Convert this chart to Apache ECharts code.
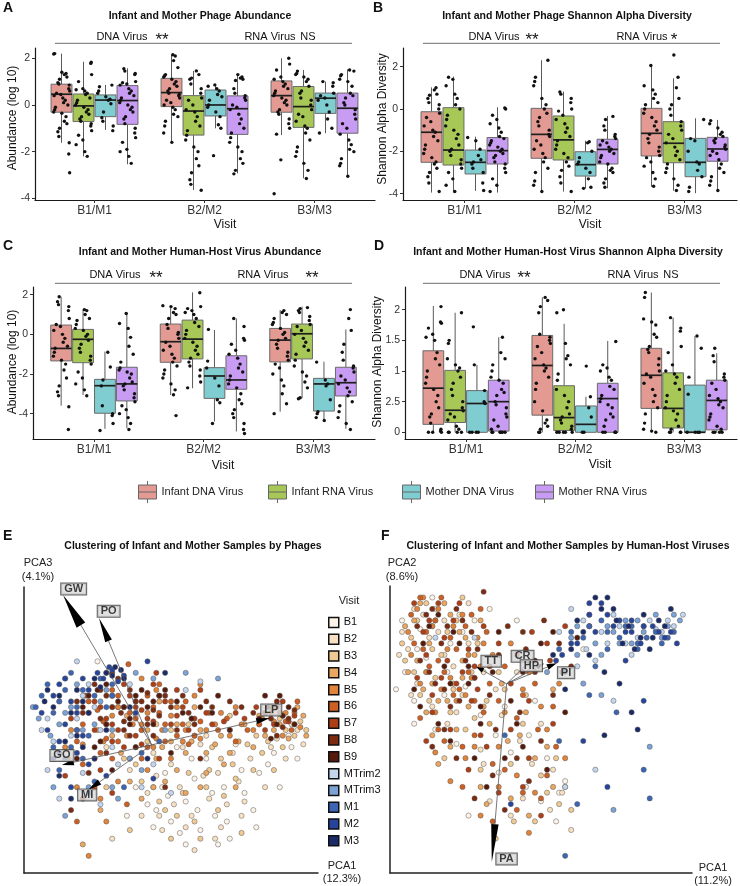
<!DOCTYPE html>
<html><head><meta charset="utf-8">
<script src="https://cdn.jsdelivr.net/npm/echarts@6/dist/echarts.min.js"></script>
<style>html,body{margin:0;padding:0;background:#fff}#c{width:740px;height:886px}</style>
</head><body><div id="c"></div>
<script>
// ---------------- DATA ----------------
const visitLabels = ['B1/M1','B2/M2','B3/M3'];
const groupNames = ['Infant DNA Virus','Infant RNA Virus','Mother DNA Virus','Mother RNA Virus'];
const divTickLabels = ['0','2.5','1','1.5','2'];

// box stats [low, q1, median, q3, high]  -> [visit][group]
const phageAbundBox = [
  [[-1.62,-0.31,0.46,0.89,2.2],[-2.2,-0.71,-0.04,0.47,1.85],[-1.07,-0.5,0.21,0.43,0.86],[-2.54,-0.83,0.19,0.83,1.57]],
  [[-1.61,-0.07,0.53,1.14,2.15],[-3.64,-1.29,-0.26,0.4,1.46],[-1.0,-0.47,0.0,0.64,0.86],[-2.93,-1.26,-0.16,0.39,1.31]],
  [[-1.29,-0.31,0.4,1.03,2.0],[-3.14,-0.96,-0.07,0.79,1.5],[-1.21,-0.36,0.29,0.51,1.0],[-3.0,-1.21,-0.14,0.51,1.53]]
];
const phageDivBox = [
  [[-3.95,-2.52,-1.1,-0.13,1.02],[-3.95,-2.65,-1.94,0.06,1.53],[-3.87,-3.07,-2.52,-1.94,-1.31],[-3.95,-2.6,-1.97,-1.35,0.08]],
  [[-3.95,-2.33,-1.2,0.03,2.3],[-3.9,-2.41,-1.46,-0.33,0.82],[-3.75,-3.17,-2.63,-2.02,-1.5],[-3.75,-2.6,-1.91,-1.43,-0.33]],
  [[-3.67,-2.22,-1.15,0.03,2.11],[-3.86,-2.54,-1.62,-0.6,1.45],[-3.98,-3.2,-2.52,-1.39,-0.44],[-3.9,-2.47,-1.89,-1.34,-0.52]]
];
const hostAbundBox = [
  [[-3.6,-1.34,-0.71,0.47,1.9],[-3.06,-1.43,-0.25,0.25,1.23],[-4.77,-3.98,-2.59,-2.27,-0.87],[-4.74,-3.36,-2.5,-1.66,1.09]],
  [[-3.06,-1.41,-0.37,0.52,1.43],[-2.72,-1.24,-0.24,0.72,2.12],[-4.4,-3.23,-2.1,-1.68,0.22],[-4.9,-2.77,-2.3,-1.08,0.8]],
  [[-3.9,-1.39,-0.29,0.3,1.23],[-3.23,-1.24,0.03,0.52,1.4],[-4.32,-3.87,-2.5,-2.22,-1.38],[-4.77,-3.11,-2.44,-1.66,0.25]]
];
const hostDivBox = [
  [[0,0.13,0.72,1.33,2.06],[0,0.16,0.36,1.01,1.95],[0,0,0.47,0.68,1.1],[0,0.02,0.5,0.85,1.55]],
  [[0,0.28,1.09,1.58,2.2],[0,0.03,0.24,0.76,1.77],[0,0,0.13,0.43,0.58],[0,0,0.55,0.8,1.49]],
  [[0,0.39,0.93,1.37,2.28],[0,0.07,0.39,0.97,1.87],[0,0,0,0.77,1.57],[0,0.04,0.52,0.85,1.29]]
];

// sample values per box (order: visit-major, group-minor)
const phageAbundPts = [
  [2.2,2.18,1.4,1.35,1.3,1.2,1.1,0.95,0.9,0.85,0.7,0.6,0.5,0.45,0.4,0.3,0.2,0.1,0,-0.1,-0.2,-0.3,-0.35,-0.5,-0.7,-0.8,-1.0,-1.15,-1.35,-1.62,-2.1,-2.9],
  [1.83,1.78,1.3,1.0,0.7,0.65,0.6,0.5,0.45,0.3,0.2,0.1,0,-0.1,-0.2,-0.3,-0.4,-0.5,-0.6,-0.7,-0.8,-0.9,-1.1,-1.3,-1.5,-1.7,-2.0,-2.2],
  [0.85,0.78,0.6,0.5,0.35,0.25,0.2,0.05,-0.3,-0.55,-0.7,-0.9,-1.1],
  [1.55,1.45,1.35,1.3,1.0,0.95,0.9,0.85,0.7,0.6,0.5,0.4,0.3,0.2,0.1,0,-0.1,-0.2,-0.3,-0.5,-0.6,-0.8,-1.0,-1.2,-1.4,-1.6,-1.9,-2.0,-2.2,-2.5],
  [2.15,2.1,1.9,1.6,1.3,1.25,1.2,1.1,1.0,0.9,0.8,0.7,0.6,0.5,0.45,0.4,0.3,0.2,0.1,0,-0.1,-0.2,-0.4,-0.5,-0.7,-0.9,-1.2,-1.6],
  [1.46,1.3,1.15,1.1,0.9,0.7,0.5,0.3,0.2,0,-0.2,-0.3,-0.5,-0.7,-0.9,-1.1,-1.3,-1.5,-1.8,-2.0,-2.3,-2.6,-2.9,-3.2,-3.4,-3.65],
  [0.86,0.8,0.7,0.6,0.45,0.35,0.2,0,-0.1,-0.3,-0.5,-0.85,-1.0,-2.17],
  [1.3,1.2,1.15,1.1,1.05,0.7,0.5,0.4,0.3,0.2,0,-0.1,-0.2,-0.4,-0.6,-0.8,-1.0,-1.2,-1.4,-1.6,-1.8,-2.0,-2.3,-2.5,-2.8,-2.95],
  [2.0,1.75,1.5,1.2,1.1,1.0,0.9,0.8,0.7,0.6,0.5,0.4,0.3,0.2,0.1,0,-0.2,-0.3,-0.4,-0.6,-0.8,-1.0,-1.25,-2.35,-3.8],
  [1.45,1.35,1.3,1.2,1.1,1.0,0.8,0.6,0.5,0.3,0.2,0,-0.2,-0.4,-0.5,-0.7,-0.9,-1.0,-1.2,-1.5,-1.8,-2.0,-2.2,-2.5,-2.8,-3.15],
  [1.0,0.95,0.8,0.5,0.4,0.3,0.2,0,-0.3,-0.6,-1.0,-1.2],
  [1.5,1.45,1.3,1.25,1.1,1.0,0.8,0.5,0.4,0.3,0.1,0,-0.2,-0.4,-0.6,-0.8,-1.0,-1.25,-1.5,-1.7,-1.9,-2.0,-2.3,-2.5,-2.6,-3.05]
];
const phageDivPts = [
  [1.0,0.9,0.7,0.65,0.5,0.3,0.2,0,-0.2,-0.4,-0.6,-0.8,-1.0,-1.1,-1.3,-1.5,-1.7,-1.9,-2.1,-2.3,-2.5,-2.6,-2.8,-3.0,-3.2,-3.5,-3.9],
  [1.5,1.4,1.1,0.7,0.5,0.2,0,-0.3,-0.5,-0.8,-1.0,-1.2,-1.4,-1.7,-1.9,-2.0,-2.2,-2.4,-2.6,-2.8,-3.0,-3.3,-3.6,-3.9],
  [-1.35,-1.5,-1.9,-2.2,-2.4,-2.5,-2.6,-2.8,-3.0,-3.5,-3.85],
  [0.05,0,-0.3,-0.5,-0.7,-0.9,-1.1,-1.3,-1.4,-1.5,-1.6,-1.7,-1.8,-1.9,-2.0,-2.1,-2.2,-2.3,-2.5,-2.6,-2.8,-3.0,-3.3,-3.6,-3.9],
  [2.3,1.5,1.3,1.1,0.5,0.2,0,-0.2,-0.4,-0.6,-0.8,-1.0,-1.2,-1.3,-1.5,-1.7,-1.9,-2.1,-2.3,-2.5,-2.8,-3.0,-3.4,-3.6,-3.9],
  [0.8,0.7,0.5,0.3,0,-0.1,-0.3,-0.5,-0.7,-0.9,-1.1,-1.3,-1.5,-1.7,-1.9,-2.1,-2.3,-2.5,-2.7,-2.9,-3.2,-3.5,-3.9],
  [-1.55,-1.6,-2.0,-2.3,-2.5,-2.6,-2.8,-3.0,-3.3,-3.7,-3.75],
  [-0.35,-0.5,-0.8,-1.0,-1.2,-1.3,-1.4,-1.5,-1.6,-1.7,-1.8,-1.9,-2.0,-2.1,-2.2,-2.3,-2.5,-2.6,-2.8,-2.9,-3.0,-3.3,-3.5,-3.7],
  [2.05,1.1,0.9,0.7,0.5,0.3,0.2,0,-0.2,-0.4,-0.6,-0.8,-1.0,-1.2,-1.4,-1.6,-1.8,-2.0,-2.2,-2.3,-2.5,-2.7,-3.0,-3.3,-3.65],
  [2.55,1.5,1.0,0.5,0.2,0,-0.3,-0.6,-0.8,-1.0,-1.2,-1.4,-1.6,-1.8,-2.0,-2.2,-2.4,-2.6,-2.8,-3.0,-3.3,-3.6,-3.85],
  [-0.5,-1.4,-1.5,-2.0,-2.5,-2.6,-2.9,-3.2,-3.7,-3.9],
  [-0.55,-0.7,-0.9,-1.1,-1.2,-1.3,-1.4,-1.5,-1.6,-1.7,-1.8,-1.9,-2.0,-2.1,-2.2,-2.4,-2.6,-2.8,-3.0,-3.2,-3.4,-3.6,-3.85]
];
const hostAbundPts = [
  [1.9,1.65,1.5,1.4,1.2,0.8,0.5,0.4,0.2,0,-0.2,-0.4,-0.6,-0.7,-0.9,-1.1,-1.3,-1.5,-1.8,-2.2,-2.6,-2.9,-3.1,-3.65,-4.8],
  [1.25,1.2,1.0,0.8,0.7,0.5,0.3,0.2,0,-0.1,-0.3,-0.5,-0.7,-0.9,-1.1,-1.3,-1.5,-1.9,-2.2,-2.5,-2.8,-3.1],
  [-0.9,-1.65,-2.3,-2.6,-3.6,-4.0,-4.1,-4.5,-4.85],
  [1.05,0.55,0.3,-0.15,-0.6,-1.0,-1.4,-1.7,-1.8,-1.9,-2.0,-2.2,-2.4,-2.5,-2.6,-2.8,-3.0,-3.2,-3.4,-3.6,-3.8,-4.0,-4.2,-4.5,-4.8],
  [1.45,1.4,1.3,1.1,1.0,0.8,0.5,0.3,0.1,0,-0.2,-0.4,-0.6,-0.8,-1.0,-1.2,-1.4,-1.6,-1.8,-2.0,-2.2,-2.5,-2.8,-3.05,-4.1],
  [2.1,1.4,1.3,1.2,1.1,1.0,0.8,0.6,0.4,0.2,0,-0.2,-0.4,-0.6,-0.8,-1.0,-1.2,-1.4,-1.6,-1.8,-2.1,-2.4,-2.7],
  [0.25,-1.35,-1.7,-2.2,-2.6,-3.3,-3.45,-4.5],
  [0.8,0.4,-0.2,-0.3,-0.5,-0.8,-1.0,-1.2,-1.5,-1.7,-1.9,-2.1,-2.3,-2.5,-2.7,-3.0,-3.3,-3.5,-3.8,-4.0,-4.2,-4.5,-4.8,-5.0],
  [1.2,1.1,1.0,0.8,0.6,0.5,0.3,0.1,0,-0.2,-0.3,-0.5,-0.7,-0.9,-1.1,-1.3,-1.5,-1.7,-2.0,-2.3,-2.6,-3.0,-3.5,-4.0],
  [1.35,1.3,1.2,1.1,0.9,0.7,0.5,0.4,0.2,0,-0.2,-0.4,-0.6,-0.8,-1.0,-1.3,-1.6,-1.9,-2.1,-2.4,-2.7,-3.2,-3.25],
  [-1.4,-2.3,-2.5,-2.6,-3.3,-3.9,-4.0,-4.2,-4.35],
  [1.25,0.8,0.2,-0.5,-0.9,-1.3,-1.6,-1.7,-1.9,-2.1,-2.3,-2.5,-2.7,-2.9,-3.1,-3.4,-3.6,-3.9,-4.2,-4.5,-4.8]
];
const hostDivPts = [
  [2.05,1.8,1.78,1.7,1.6,1.55,1.5,1.3,1.2,1.1,1.0,0.9,0.8,0.7,0.6,0.5,0.4,0.3,0.25,0.15,0.05,0.02,0,0,0],
  [1.95,1.5,1.45,1.2,1.1,1.05,1.0,0.9,0.8,0.7,0.6,0.5,0.4,0.35,0.3,0.25,0.2,0.1,0.05,0,0,0,0],
  [1.72,1.1,0.68,0.5,0.47,0,0,0,0],
  [1.55,1.3,1.2,1.1,1.0,0.9,0.85,0.8,0.7,0.65,0.6,0.5,0.45,0.4,0.3,0.25,0.2,0.1,0.05,0,0,0,0,0,0],
  [2.2,2.15,2.05,1.95,1.6,1.55,1.5,1.45,1.4,1.3,1.2,1.1,1.05,1.0,0.9,0.8,0.7,0.5,0.35,0.2,0.15,0.1,0.05,0,0],
  [2.0,1.95,1.45,1.25,1.2,1.1,0.95,0.85,0.7,0.6,0.5,0.4,0.3,0.25,0.2,0.15,0.1,0.05,0,0,0,0,0],
  [1.08,0.58,0.4,0.25,0,0],
  [1.48,1.1,1.05,1.0,0.9,0.85,0.75,0.7,0.6,0.55,0.5,0.45,0.4,0.3,0.25,0.2,0.1,0,0,0,0,0],
  [2.28,2.2,1.85,1.8,1.75,1.6,1.55,1.4,1.35,1.3,1.2,1.1,1.0,0.95,0.9,0.8,0.7,0.6,0.5,0.4,0.3,0.15,0.05,0.02,0],
  [1.87,1.7,1.65,1.4,1.3,1.1,1.0,0.95,0.9,0.8,0.7,0.6,0.5,0.4,0.35,0.3,0.2,0.1,0.05,0,0,0,0],
  [1.57,1.37,0.9,0.62,0,0,0,0],
  [1.37,1.25,1.15,0.95,0.9,0.85,0.8,0.7,0.6,0.55,0.5,0.45,0.4,0.3,0.25,0.2,0.1,0.05,0,0,0,0]
];
// fixed horizontal jitter pattern (category units)
const jitterPattern = [-0.062,0.041,-0.018,0.07,-0.045,0.012,0.058,-0.071,0.026,-0.033,0.066,-0.006,0.034,-0.055,0.003,0.049,-0.024,0.074,-0.067,0.019];

// PCA panels (arbitrary score units, 0-100)
const visitNames = ['B1','B2','B3','B4','B5','B6','B7','B8','B9','MTrim2','MTrim3','M1','M2','M3'];
const phagePCA_B1 = [[38,30],[45,22],[50,18],[55,25],[60,15],[65,20],[70,12],[48,35],[58,33],[75,28],[80,35],[85,42],[90,48],[72,45],[62,40],[52,44],[40,50],[30,58],[25,74],[35,20],[68,30],[93,40],[78,22],[55,10],[88,55],
  [42,24],[47,30],[53,14],[59,22],[64,28],[69,18],[74,36],[83,38],[87,30],[91,44],[57,40],[49,27],[44,16],[66,10],[79,16]];
const phagePCA_B2 = [[42,28],[47,15],[53,30],[57,20],[63,26],[67,16],[73,32],[77,40],[82,30],[86,47],[91,52],[70,50],[60,45],[50,38],[44,42],[36,36],[30,12],[58,8],[66,35],[74,20],[95,45],[80,52],[38,55],[28,44],
  [40,20],[45,34],[51,24],[55,16],[61,34],[65,12],[69,24],[75,25],[84,44],[89,40],[93,50],[62,48],[54,44],[46,20],[71,42]];
const phagePCA_B3 = [[40,32],[46,25],[52,20],[56,35],[62,30],[66,22],[71,38],[76,45],[81,42],[85,36],[89,50],[94,53],[70,55],[58,48],[50,50],[42,46],[34,40],[28,30],[36,15],[60,12],[68,27],[79,48],[88,44],[32,58],
  [38,38],[44,30],[48,22],[54,28],[58,18],[63,36],[67,40],[72,33],[78,36],[83,46],[87,54],[92,48],[96,50],[64,44],[56,52],[45,52],[50,12],[74,14]];
const phagePCA_B4 = [[30,48],[38,44],[45,40],[50,46],[55,42],[60,50],[65,45],[70,42],[75,52],[80,55],[85,50],[90,47],[95,55],[62,35],[55,28],[48,32],[40,26],[26,22],[20,10],[72,30],[84,58],[92,52],[35,55],[46,60],[58,58],
  [28,52],[33,42],[42,50],[47,44],[52,52],[57,46],[62,42],[67,48],[73,46],[78,44],[82,48],[87,52],[93,58],[96,48],[52,36],[44,30],[60,30],[36,32],[24,40],[68,38]];
const phagePCA_B5 = [[20,45],[25,50],[30,55],[35,48],[40,52],[45,47],[50,55],[55,50],[60,47],[65,52],[70,48],[78,50],[85,53],[92,56],[88,48],[50,40],[42,36],[32,32],[18,30],[28,18],[45,64],[38,60],[58,62],[72,58],[22,6],
  [16,50],[22,56],[27,46],[32,58],[37,52],[42,56],[47,50],[52,58],[57,54],[62,50],[67,56],[74,52],[81,54],[89,56],[94,51],[36,40],[44,44],[54,46],[26,26],[14,44],[60,66],[40,68]];
const phagePCA_B6 = [[15,40],[20,52],[25,57],[28,47],[32,62],[36,56],[40,50],[44,58],[48,52],[52,48],[56,45],[60,53],[66,50],[72,46],[80,52],[87,56],[91,50],[46,66],[35.5,73],[30,40],[24,30],[35,24],[18,18],[55,60],[42,44],
  [18,46],[22,60],[27,53],[30,64],[34,58],[38,54],[42,62],[46,56],[50,60],[54,52],[58,48],[63,56],[69,54],[76,50],[84,56],[89,53],[93,60],[40,40],[32,46],[20,38],[48,46],[26,42]];
const phagePCA_B7 = [[18,50],[24,60],[28,54],[32,50],[36,62],[40,57],[44,53],[48,60],[52,55],[56,50],[62,56],[68,53],[75,54],[82,50],[86,58],[90,53],[40,45],[34,44],[26,36],[20,26],[30,28],[46,40],[60,64],[45,70],[14,34],
  [16,54],[21,62],[26,58],[30,52],[34,66],[38,58],[42,54],[46,62],[50,52],[54,58],[58,54],[64,52],[72,56],[79,58],[85,52],[88,60],[92,55],[38,48],[30,46],[24,50],[44,66],[52,64]];
const phagePCA_B8 = [[20,56],[26,64],[30,58],[34,53],[38,60],[42,63],[46,55],[50,58],[54,62],[58,52],[64,58],[70,60],[78,56],[84,54],[88,51],[92,57],[36,48],[28,42],[22,35],[32,68],[44,48],[16,22],[48,30],[60,40],
  [18,60],[24,66],[28,62],[33,56],[36,64],[40,60],[44,57],[48,62],[52,50],[56,56],[62,60],[74,58],[82,56],[86,60],[90,54],[34,50],[26,54],[42,52],[30,70],[86,48]];
const phagePCA_B9 = [[22,62],[28,66],[32,60],[36,52],[40,64],[44,60],[48,64],[54,56],[60,58],[66,62],[80,54],[86,52],[90,58],[38,44],[26,46],[30,36],[18,40],[50,42],[70,50],[82,62],[84,47],
  [20,58],[25,64],[30,62],[34,58],[38,62],[42,58],[46,62],[52,60],[57,54],[64,56],[83,58],[88,55],[92,52],[36,54],[28,52],[44,52],[24,44],[87,62]];
const phagePCA_MTrim2 = [[8,54],[12,60],[16,48],[20,62],[24,58],[28,70],[18,74],[30,44],[20,35],[12,26],[26,24],[40,30],[55,64],[60,67],[44,38],[18,54],[50,28],
  [6,50],[10,46],[14,68],[22,66],[26,50],[32,38],[8,36],[36,66]];
const phagePCA_MTrim3 = [[3,58],[9,48],[14,56],[18,66],[24,52],[28,64],[36,40],[22,30],[14,20],[32,26],[44,68],[55,70],[66,68],[48,50],[40,36],[30,50],
  [5,54],[12,52],[16,58],[20,50],[26,60],[30,30],[10,30],[38,70]];
const phagePCA_M1 = [[6,62],[10,56],[14,64],[18,58],[22,48],[26,68],[30,66],[16,44],[20,40],[12,36],[24,32],[34,30],[40,42],[46,46],[10,44],[28,58],
  [4,58],[8,66],[12,60],[16,70],[20,64],[24,62],[18,50],[14,40],[22,28],[30,62]];
const phagePCA_M2 = [[8,50],[12,66],[16,60],[20,68],[25,70],[29,72],[32,67],[14,52],[18,42],[22,38],[10,40],[28,34],[38,56],[44,33],[42,74],[16,30],
  [6,56],[10,62],[14,68],[18,56],[22,64],[27,68],[30,71],[34,69],[12,46],[20,48]];
const phagePCA_M3 = [[10,58],[14,46],[18,64],[22,56],[26,65],[30,69],[33,71],[20,44],[24,40],[12,34],[16,26],[36,58],[42,40],[8,64],[28,50],[48,70],
  [7,60],[12,62],[16,56],[20,60],[24,68],[28,70],[31,72],[34,68],[18,48],[12,42]];

const hostPCA_B1 = [[5,70],[10,85],[15,92],[20,80],[8,60],[25,65],[30,55],[35,48],[40,42],[45,30],[50,25],[55,18],[22,45],[15,50],[12,75],[28,88],[48,60],[52,40],[58,32],[36,35],[2,64],[42,88],[64,78],
  [4,88],[9,78],[14,96],[19,70],[24,84],[33,92],[8,52],[18,62],[38,58],[46,48],[56,28],[26,20]];
const hostPCA_B2 = [[6,78],[11,90],[16,84],[21,72],[26,94],[9,66],[14,58],[19,52],[24,62],[31,70],[37,55],[43,46],[47,38],[53,22],[57,28],[33,25],[18,88],[4,84],[26,80],[40,20],[60,15],[30,43],
  [3,76],[8,92],[13,82],[18,76],[23,90],[28,68],[12,70],[7,62],[22,56],[35,64],[42,70],[50,52],[54,36],[44,26],[31,38]];
const hostPCA_B3 = [[7,82],[12,94],[17,76],[22,88],[27,70],[10,62],[15,68],[20,56],[25,50],[32,60],[38,64],[44,52],[50,34],[56,24],[30,36],[18,40],[5,74],[14,86],[40,38],[55,40],[48,18],[35,12],
  [4,80],[9,88],[14,78],[19,84],[24,96],[29,80],[8,70],[13,60],[21,64],[28,54],[36,70],[45,62],[52,28],[60,22],[41,18]];
const hostPCA_B4 = [[8,88],[13,80],[18,94],[23,84],[28,76],[6,70],[11,64],[16,60],[21,66],[26,58],[33,52],[39,46],[45,56],[52,44],[58,30],[20,44],[14,48],[30,30],[40,26],[46,20],[12,56],[24,74],[54,64],
  [5,86],[10,94],[15,88],[20,90],[25,82],[30,88],[9,74],[14,66],[19,60],[24,68],[31,58],[37,66],[43,48],[48,40],[54,30],[22,50],[32,24],[16,38]];
const hostPCA_B5 = [[9,92],[14,86],[19,78],[24,90],[29,82],[7,76],[12,70],[17,64],[22,60],[27,68],[34,76],[40,80],[46,70],[50,58],[56,66],[36,44],[42,34],[48,28],[15,42],[25,40],[20,32],[30,20],
  [6,84],[11,96],[16,92],[21,86],[26,76],[31,80],[10,66],[15,56],[20,68],[25,62],[30,72],[38,56],[44,64],[52,50],[58,40],[28,44],[36,30],[46,14]];
const hostPCA_B6 = [[10,96],[15,88],[20,82],[25,86],[30,92],[8,80],[13,72],[18,70],[23,64],[28,60],[33,66],[38,72],[44,62],[49,50],[55,44],[10,54],[18,46],[28,48],[38,36],[44,28],[52,34],[24,30],[34,18],
  [7,90],[12,84],[17,96],[22,78],[27,90],[32,84],[11,78],[16,74],[21,62],[26,70],[31,56],[36,60],[42,54],[48,66],[54,58],[16,50],[24,44],[34,38],[42,22],[50,26]];
const hostPCA_B7 = [[11,84],[16,94],[21,88],[26,78],[31,86],[9,68],[14,62],[19,74],[24,70],[29,64],[36,80],[42,76],[47,84],[53,74],[58,86],[12,46],[20,50],[32,44],[40,50],[46,40],[54,52],[36,28],[26,36],
  [8,94],[13,88],[18,82],[23,94],[28,72],[12,76],[17,68],[22,66],[27,60],[33,72],[40,66],[46,60],[52,80],[57,70],[14,56],[30,48],[44,30],[50,20]];
const hostPCA_B8 = [[31,98],[12,90],[17,80],[22,92],[27,84],[10,74],[15,66],[20,58],[25,74],[33,62],[39,86],[45,78],[51,88],[56,80],[60,72],[14,44],[22,40],[35,50],[43,56],[50,46],[38,22],[46,32],[28,26],
  [9,86],[14,92],[19,86],[24,88],[29,78],[13,70],[18,64],[23,60],[28,68],[36,76],[44,84],[48,70],[54,62],[18,50],[42,40],[34,34]];
const hostPCA_B9 = [[13,86],[18,72],[23,80],[8,64],[16,52],[26,66],[34,70],[40,60],[48,74],[54,84],[62,82],[20,46],[30,52],[38,40],[44,44],[52,36],[58,56],[66,86],[32,30],
  [11,80],[16,90],[21,84],[26,72],[10,58],[20,66],[30,58],[36,84],[44,70],[50,80],[42,52],[28,40]];
const hostPCA_MTrim2 = [[60,92],[70,84],[76,86],[82,82],[86,88],[90,84],[94,86],[97,90],[65,78],[72,80],[80,76],[58,30],[68,36],[88,85],[15,82],[28,82],[62,72],
  [64,88],[74,90],[78,80],[84,86],[92,88],[68,74],[56,84],[74,60]];
const hostPCA_MTrim3 = [[62,86],[68,80],[74,84],[78,88],[84,84],[88,90],[92,86],[96,88],[70,76],[80,80],[86,44],[74,22],[64,66],[60,82],[52,70],
  [66,90],[72,86],[76,80],[82,88],[90,82],[94,90],[62,76],[70,62]];
const hostPCA_M1 = [[64,82],[70,88],[76,82],[80,86],[85,82],[90,80],[94,84],[72,78],[66,62],[75,56],[62,24],[84,36],[58,6],[56,78],[82,78],[38,48],
  [66,86],[72,84],[78,86],[82,80],[88,84],[92,82],[60,84],[68,72],[56,46],[86,26]];
const hostPCA_M2 = [[66,94],[72,90],[74,86],[78,84],[83,80],[87,86],[91,82],[95,80],[68,84],[60,80],[55,74],[64,46],[72,30],[58,70],[80,88],[78,74],[40,24],
  [70,94],[76,88],[80,84],[84,86],[89,84],[93,84],[62,80],[66,90],[57,76],[84,60]];
const hostPCA_M3 = [[68,96],[70,92],[74,92],[77,80],[81,78],[86,78],[89,88],[93,92],[71,70],[80,56],[71,48],[58,64],[62,88],[54,76],[84,90],[66,76],
  [72,96],[75,88],[79,86],[83,82],[87,82],[91,86],[64,84],[60,78],[82,50],[76,66]];

// loadings (biplot arrows) : origin, tips, label anchors
const phageLoadNames = ['GW','PO','LP','GO','MI'];
const phageLoadOrigin = [43.4,44.8];
const phageLoadTips = [[13.3,97.2],[25.5,89.2],[83.7,54.2],[12.9,37.8],[21.8,29.0]];
const phageLoadLabels = [[16.9,99.3],[28.8,91.5],[84.1,57.0],[12.9,41.1],[21.5,27.3]];
const hostLoadNames = ['TT','CR','HP','PI','PA'];
const hostLoadOrigin = [38.6,65.9];
const hostLoadTips = [[28.5,71.9],[47.5,75.0],[51.0,73.0],[55.2,73.1],[33.7,3.8]];
const hostLoadLabels = [[33.5,73.8],[43.9,75.5],[46.8,72.2],[58.3,69.8],[38.6,4.9]];

// ---------------- STYLE ----------------
const FONT = '"Liberation Sans", Arial, Helvetica, sans-serif';
const groupColors = ['#E39A92','#A7C756','#80CDD1','#C89CF3'];
const visitColors = ['#FDF3E7','#F8E1C3','#F0CA93','#E9A762','#E1843A','#CE5F22','#AF3D15','#7C2A10','#561A0B','#C4D5EE','#7CA3D5','#3D65B3','#27449C','#1A2A68'];
const groupOffsets = [-0.3,-0.1,0.1,0.3];
const BOX_W = 0.19;
const phageHeadLen = [35,25,14,12,14], phageHeadHW = [5,3.6,3,3,3];
const hostHeadLen = [8,8,8,10,38], hostHeadHW = [2.6,2.6,2.6,3,3.7];

const boxPanels = [
  {box:phageAbundBox, pts:phageAbundPts, ticks:[-4,-2,0,2], yMin:-4.07, yMax:2.44, xMin:-0.541, xMax:2.55, grid:{left:35,top:48,width:340,height:152}},
  {box:phageDivBox, pts:phageDivPts, ticks:[-4,-2,0,2], yMin:-4.30, yMax:2.88, xMin:-0.559, xMax:2.477, grid:{left:403,top:48,width:334,height:152}},
  {box:hostAbundBox, pts:hostAbundPts, ticks:[-4,-2,0,2], yMin:-5.28, yMax:2.39, xMin:-0.557, xMax:2.566, grid:{left:33,top:287,width:342,height:152}},
  {box:hostDivBox, pts:hostDivPts, ticks:[0,0.5,1,1.5,2], yMin:-0.109, yMax:2.37, xMin:-0.56, xMax:2.486, grid:{left:405,top:287,width:332,height:152}, labels:divTickLabels}
];

const grids = [], xAxes = [], yAxes = [], series = [];
const axisLineStyle = {color:'#1a1a1a', width:1.2};

function renderBox(params, api) {
  const x = api.value(0);
  const low = api.coord([x, api.value(1)]);
  const q1 = api.coord([x, api.value(2)]);
  const med = api.coord([x, api.value(3)]);
  const q3 = api.coord([x, api.value(4)]);
  const high = api.coord([x, api.value(5)]);
  const w = api.size([BOX_W, 0])[0];
  const cx = low[0];
  return {type:'group', children:[
    {type:'line', shape:{x1:cx,y1:high[1],x2:cx,y2:q3[1]}, style:{stroke:'#5a5a5a', lineWidth:1}},
    {type:'line', shape:{x1:cx,y1:q1[1],x2:cx,y2:low[1]}, style:{stroke:'#5a5a5a', lineWidth:1}},
    {type:'rect', shape:{x:cx-w/2, y:q3[1], width:w, height:Math.max(q1[1]-q3[1],0.5)}, style:{fill:api.visual('color'), stroke:'#6a6a6a', lineWidth:1}},
    {type:'line', shape:{x1:cx-w/2,y1:med[1],x2:cx+w/2,y2:med[1]}, style:{stroke:'#1e1e1e', lineWidth:1.7}}
  ]};
}

boxPanels.forEach((p, gi) => {
  grids.push(Object.assign({containLabel:false}, p.grid));
  xAxes.push({gridIndex:gi, type:'value', min:p.xMin, max:p.xMax,
    axisLine:{show:true, onZero:false, lineStyle:axisLineStyle},
    axisTick:{show:true, customValues:[0,1,2], length:3, lineStyle:{color:'#333'}},
    axisLabel:{customValues:[0,1,2], formatter:v => visitLabels[Math.round(v)], fontSize:12, color:'#333', fontFamily:FONT, margin:5},
    splitLine:{show:false}});
  yAxes.push({gridIndex:gi, type:'value', min:p.yMin, max:p.yMax,
    axisLine:{show:true, onZero:false, lineStyle:axisLineStyle},
    axisTick:{show:true, customValues:p.ticks, length:3, lineStyle:{color:'#333'}},
    axisLabel:{customValues:p.ticks, formatter: v => p.labels ? p.labels[Math.round(v*2)] : String(v), fontSize:10.5, color:'#333', fontFamily:FONT, margin:5},
    splitLine:{show:false}});
  for (let g = 0; g < 4; g++) {
    const data = [];
    for (let v = 0; v < 3; v++) { const b = p.box[v][g]; data.push([v + groupOffsets[g], b[0], b[1], b[2], b[3], b[4]]); }
    series.push({type:'custom', name:groupNames[g], xAxisIndex:gi, yAxisIndex:gi, renderItem:renderBox, data:data,
      itemStyle:{color:groupColors[g], opacity:1}, encode:{x:0, y:[1,2,3,4,5]}, z:2, silent:true});
  }
  const jd = [];
  for (let v = 0; v < 3; v++) for (let g = 0; g < 4; g++) {
    p.pts[v*4+g].forEach((y, i) => {
      const j = jitterPattern[(i*7 + g*3 + v*5 + gi) % jitterPattern.length];
      jd.push([v + groupOffsets[g] + j, y]);
    });
  }
  series.push({type:'scatter', xAxisIndex:gi, yAxisIndex:gi, data:jd, symbolSize:3.4, itemStyle:{color:'#111', opacity:1}, z:3, silent:true});
});

// PCA grids
const pcaGrids = [{left:24,top:587,width:294,height:286},{left:390,top:586,width:302,height:287}];
pcaGrids.forEach((g, k) => {
  grids.push(g);
  const gi = 4 + k;
  xAxes.push({gridIndex:gi, type:'value', min:0, max:100, axisLine:{show:true, onZero:false, lineStyle:{color:'#222', width:1.5}}, axisTick:{show:false}, axisLabel:{show:false}, splitLine:{show:false}});
  yAxes.push({gridIndex:gi, type:'value', min:0, max:100, axisLine:{show:true, onZero:false, lineStyle:{color:'#222', width:1.5}}, axisTick:{show:false}, axisLabel:{show:false}, splitLine:{show:false}});
});
const phagePCA = [phagePCA_B1,phagePCA_B2,phagePCA_B3,phagePCA_B4,phagePCA_B5,phagePCA_B6,phagePCA_B7,phagePCA_B8,phagePCA_B9,phagePCA_MTrim2,phagePCA_MTrim3,phagePCA_M1,phagePCA_M2,phagePCA_M3];
const hostPCA = [hostPCA_B1,hostPCA_B2,hostPCA_B3,hostPCA_B4,hostPCA_B5,hostPCA_B6,hostPCA_B7,hostPCA_B8,hostPCA_B9,hostPCA_MTrim2,hostPCA_MTrim3,hostPCA_M1,hostPCA_M2,hostPCA_M3];
[phagePCA, hostPCA].forEach((sets, k) => {
  sets.forEach((d, i) => {
    series.push({type:'scatter', name:visitNames[i], xAxisIndex:4+k, yAxisIndex:4+k, data:d, symbolSize:5.2,
      itemStyle:{color:visitColors[i], borderColor:'#5a5a5a', borderWidth:0.5, opacity:1}, z:2, silent:true});
  });
});

function arrowRenderer(lens, hws) {
  return function (params, api) {
    const p0 = api.coord([api.value(0), api.value(1)]);
    const p1 = api.coord([api.value(2), api.value(3)]);
    const L = lens[params.dataIndex], hw = hws[params.dataIndex];
    const dx = p1[0]-p0[0], dy = p1[1]-p0[1], d = Math.hypot(dx, dy);
    const ux = dx/d, uy = dy/d;
    const bx = p1[0]-ux*L, by = p1[1]-uy*L;
    return {type:'group', children:[
      {type:'line', shape:{x1:p0[0],y1:p0[1],x2:bx,y2:by}, style:{stroke:'#555', lineWidth:0.8}},
      {type:'polygon', shape:{points:[[p1[0],p1[1]],[bx-uy*hw,by+ux*hw],[bx+uy*hw,by-ux*hw]]}, style:{fill:'#000'}}
    ]};
  };
}
[[phageLoadOrigin, phageLoadTips, phageLoadLabels, phageLoadNames, phageHeadLen, phageHeadHW],
 [hostLoadOrigin, hostLoadTips, hostLoadLabels, hostLoadNames, hostHeadLen, hostHeadHW]].forEach((a, k) => {
  const [o, tips, labs, names, lens, hws] = a;
  series.push({type:'custom', xAxisIndex:4+k, yAxisIndex:4+k, renderItem:arrowRenderer(lens, hws),
    data: tips.map(t => [o[0], o[1], t[0], t[1]]), encode:{x:[0,2], y:[1,3]}, z:5, silent:true});
  series.push({type:'scatter', xAxisIndex:4+k, yAxisIndex:4+k, symbolSize:1, itemStyle:{color:'rgba(0,0,0,0)'},
    data: labs.map((l, i) => [l[0], l[1], names[i]]), z:6, silent:true,
    label:{show:true, position:'inside', formatter: p => p.value[2], fontFamily:FONT, fontSize:11, fontWeight:'bold', color:'#111',
      backgroundColor:'#D9D9D9', borderColor:'#3a3a3a', borderWidth:1, padding:[1,3,0,3], lineHeight:10}});
});

// ---------------- TEXT ----------------
function T(text, x, y, size, opts) {
  opts = opts || {};
  return {type:'text', x:x, y:y, rotation:opts.rot || 0, z:10, silent:true,
    style:{text:text, font:(opts.bold ? 'bold ' : '') + size + 'px ' + FONT, fill:opts.color || '#111',
      align:opts.align || 'center', verticalAlign:'middle', textAlign:opts.align || 'center', textVerticalAlign:'middle'}};
}
function L(x1, x2, y) { return {type:'line', z:10, silent:true, shape:{x1:x1,y1:y,x2:x2,y2:y}, style:{stroke:'#8a8a8a', lineWidth:1.2}}; }
const graphics = [
  T('A', 3, 8, 14, {bold:true, align:'left'}), T('B', 373, 8, 14, {bold:true, align:'left'}),
  T('C', 3, 246, 14, {bold:true, align:'left'}), T('D', 374, 246, 14, {bold:true, align:'left'}),
  T('E', 3, 536, 14, {bold:true, align:'left'}), T('F', 381, 536, 14, {bold:true, align:'left'}),
  T('Infant and Mother Phage Abundance', 200, 16, 10.5, {bold:true}),
  T('Infant and Mother Phage Shannon Alpha Diversity', 567, 16, 10.5, {bold:true}),
  T('Infant and Mother Human-Host Virus Abundance', 200, 252, 10.5, {bold:true}),
  T('Infant and Mother Human-Host Virus Shannon Alpha Diversity', 568, 252, 10.5, {bold:true}),
  T('Clustering of Infant and Mother Samples by Phages', 193, 546, 10.5, {bold:true}),
  T('Clustering of Infant and Mother Samples by Human-Host Viruses', 568, 546, 10.5, {bold:true}),
  L(55, 352, 43.3), L(423, 720, 43.3), L(55, 352, 283.3), L(423, 720, 283.3),
  T('DNA Virus', 122, 36.5, 11), T('**', 162, 40, 17), T('RNA Virus', 270, 36.5, 11), T('NS', 308, 36.5, 11),
  T('DNA Virus', 494, 36.5, 11), T('**', 532, 40, 17), T('RNA Virus', 642, 36.5, 11), T('*', 674, 40, 17),
  T('DNA Virus', 115, 275, 11), T('**', 156, 278.5, 17), T('RNA Virus', 263, 275, 11), T('**', 312, 278.5, 17),
  T('DNA Virus', 485, 275, 11), T('**', 524, 278.5, 17), T('RNA Virus', 633, 275, 11), T('NS', 671, 275, 11),
  T('Abundance (log 10)', 13, 118, 12, {rot:Math.PI/2}), T('Visit', 225, 225, 12),
  T('Shannon Alpha Diversity', 383, 119, 12, {rot:Math.PI/2}), T('Visit', 590, 225, 12),
  T('Abundance (log 10)', 13, 362, 12, {rot:Math.PI/2}), T('Visit', 223, 466, 12),
  T('Shannon Alpha Diversity', 378, 362, 12, {rot:Math.PI/2}), T('Visit', 600, 465, 12),
  T('PCA3', 38, 563, 11, {color:'#222'}), T('(4.1%)', 38, 577, 11, {color:'#222'}),
  T('PCA1', 342, 866, 11, {color:'#222'}), T('(12.3%)', 342, 879, 11, {color:'#222'}),
  T('PCA2', 402, 563, 11, {color:'#222'}), T('(8.6%)', 402, 577, 11, {color:'#222'}),
  T('PCA1', 713, 868, 11, {color:'#222'}), T('(11.2%)', 713, 881, 11, {color:'#222'}),
  T('Visit', 349, 601, 11, {color:'#222'})
];

// ---------------- LEGENDS ----------------
const groupLegendLeft = [138, 268, 402, 535];
const legends = groupNames.map((n, i) => ({data:[n], left:groupLegendLeft[i], top:480.5, padding:0, itemWidth:18, itemHeight:22,
  icon:'path://M0,4H18V18H0Z M9,0V4 M9,18V22 M0,11H18', itemStyle:{borderColor:'#666', borderWidth:1, opacity:1},
  textStyle:{fontSize:11, color:'#222', fontFamily:FONT}, selectedMode:false}));
legends.push({data:visitNames, orient:'vertical', left:328, top:616.7, padding:0, itemWidth:10, itemHeight:10, itemGap:5.3,
  icon:'rect', itemStyle:{borderColor:'#111', borderWidth:1.5, opacity:1}, textStyle:{fontSize:11, color:'#111', fontFamily:FONT, lineHeight:10}, selectedMode:false});

const chart = echarts.init(document.getElementById('c'), null, {renderer:'canvas'});
chart.setOption({animation:false, backgroundColor:'#fff', textStyle:{fontFamily:FONT},
  grid:grids, xAxis:xAxes, yAxis:yAxes, series:series, legend:legends, graphic:graphics});
</script></body></html>
